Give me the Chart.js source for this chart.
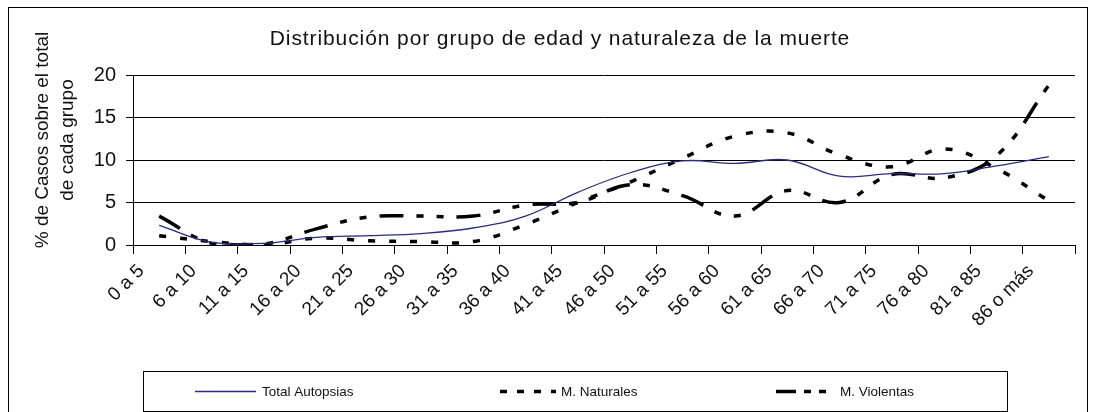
<!DOCTYPE html>
<html><head><meta charset="utf-8">
<script src="https://cdn.jsdelivr.net/npm/chart.js@4/dist/chart.umd.min.js"></script>
<style>html,body{margin:0;padding:0;background:#fff}</style>
</head><body>
<canvas id="c" width="1095" height="412"></canvas>
<script>
const categories = ["0 a 5","6 a 10","11 a 15","16 a 20","21 a 25","26 a 30","31 a 35","36 a 40","41 a 45","46 a 50","51 a 55","56 a 60","61 a 65","66 a 70","71 a 75","76 a 80","81 a 85","86 o más"];
const totalAutopsias = [2.3,0.3,0.2,0.9,1.1,1.35,2.0,3.4,6.2,8.5,9.9,9.6,10.0,8.1,8.4,8.4,9.3,10.4];
const mNaturales = [1.1,0.4,0.0,0.8,0.5,0.4,0.4,2.4,5.0,7.4,10.2,12.8,13.2,10.6,9.2,11.3,9.0,5.2];
const mViolentas = [3.4,0.2,0.1,1.9,3.3,3.4,3.4,4.7,5.0,7.1,5.8,3.4,6.4,5.0,8.3,7.9,10.5,18.8];
const yTicks = [0,5,10,15,20];
const seriesNames = ["Total Autopsias","M. Naturales","M. Violentas"];
const chartTitle = "Distribución por grupo de edad y naturaleza de la muerte";
const yTitle = ["% de Casos sobre el total","de cada grupo"];

const FONT = "'Liberation Sans', Arial, sans-serif";

const decor = {
  id: 'decor',
  beforeDraw(chart) {
    const ctx = chart.ctx;
    ctx.save();
    ctx.fillStyle = '#fff';
    ctx.fillRect(0, 0, chart.width, chart.height);
    ctx.strokeStyle = '#000';
    ctx.lineWidth = 1;
    ctx.strokeRect(8.5, 7.5, 1079, 430);
    ctx.restore();
  },
  afterDraw(chart) {
    const ctx = chart.ctx;
    ctx.save();
    // chart title
    ctx.fillStyle = '#111';
    ctx.font = '21px ' + FONT;
    ctx.textAlign = 'center';
    ctx.textBaseline = 'middle';
    if ('letterSpacing' in ctx) ctx.letterSpacing = '0.9px';
    ctx.fillText(chartTitle, 560, 39);
    if ('letterSpacing' in ctx) ctx.letterSpacing = '0px';
    // y-axis title (two lines)
    ctx.font = '19px ' + FONT;
    ctx.textBaseline = 'alphabetic';
    const xs = [48, 73];
    yTitle.forEach((t, i) => {
      ctx.save();
      ctx.translate(xs[i], 140);
      ctx.rotate(-Math.PI / 2);
      ctx.fillText(t, 0, 0);
      ctx.restore();
    });
    // legend box
    ctx.strokeStyle = '#000';
    ctx.lineWidth = 1;
    ctx.strokeRect(143.5, 371.5, 864, 40);
    const items = [{x0:195,x1:256,tx:262},{x0:500,x1:556,tx:561},{x0:776,x1:836,tx:840}];
    chart.data.datasets.forEach((ds, i) => {
      const it = items[i];
      ctx.save();
      ctx.strokeStyle = ds.borderColor;
      ctx.lineWidth = ds.borderWidth;
      ctx.setLineDash(ds.legendDash || []);
      ctx.beginPath();
      ctx.moveTo(it.x0, 391.5);
      ctx.lineTo(it.x1, 391.5);
      ctx.stroke();
      ctx.restore();
      ctx.fillStyle = '#111';
      ctx.font = '13.5px ' + FONT;
      ctx.textAlign = 'left';
      ctx.textBaseline = 'middle';
      ctx.fillText(ds.label, it.tx, 392);
    });
    ctx.restore();
  }
};

new Chart(document.getElementById('c'), {
  type: 'line',
  data: {
    labels: categories,
    datasets: [
      {label: seriesNames[0], data: totalAutopsias, borderColor: '#2b2b80', borderWidth: 1.3, tension: 0.4, pointRadius: 0, fill: false, legendDash: []},
      {label: seriesNames[1], data: mNaturales, borderColor: '#000', borderWidth: 3.5, borderDash: [7, 14], borderCapStyle: 'butt', tension: 0.4, pointRadius: 0, fill: false, legendDash: [7, 10]},
      {label: seriesNames[2], data: mViolentas, borderColor: '#000', borderWidth: 3.5, borderDash: [24, 13, 7, 13, 7, 13], borderCapStyle: 'butt', tension: 0.4, pointRadius: 0, fill: false, legendDash: [20, 8, 7, 8, 7, 10]}
    ]
  },
  options: {
    responsive: false,
    devicePixelRatio: 1,
    animation: false,
    layout: {padding: {left: 0, right: 20, top: 75, bottom: 0}},
    plugins: {
      legend: {display: false},
      tooltip: {enabled: false},
      title: {display: false}
    },
    scales: {
      x: {
        offset: true,
        grid: {display: true, drawOnChartArea: false, drawTicks: true, tickLength: 9, offset: true, color: '#000', lineWidth: 1},
        border: {display: true, color: '#000', width: 1},
        ticks: {color: '#111', font: {family: FONT, size: 19}, minRotation: 45, maxRotation: 45, autoSkip: false, padding: 6, labelOffset: -18},
        afterFit(scale) { scale.height = 412 - 245; }
      },
      y: {
        min: 0, max: 20,
        afterBuildTicks(scale) { scale.ticks = yTicks.map(v => ({value: v})); },
        grid: {color: '#000', lineWidth: 1, tickLength: 7, drawTicks: true},
        border: {display: true, color: '#000', width: 1},
        ticks: {color: '#111', font: {family: FONT, size: 20}, padding: 10},
        afterFit(scale) { scale.width = 133; }
      }
    }
  },
  plugins: [decor]
});
</script>
</body></html>
